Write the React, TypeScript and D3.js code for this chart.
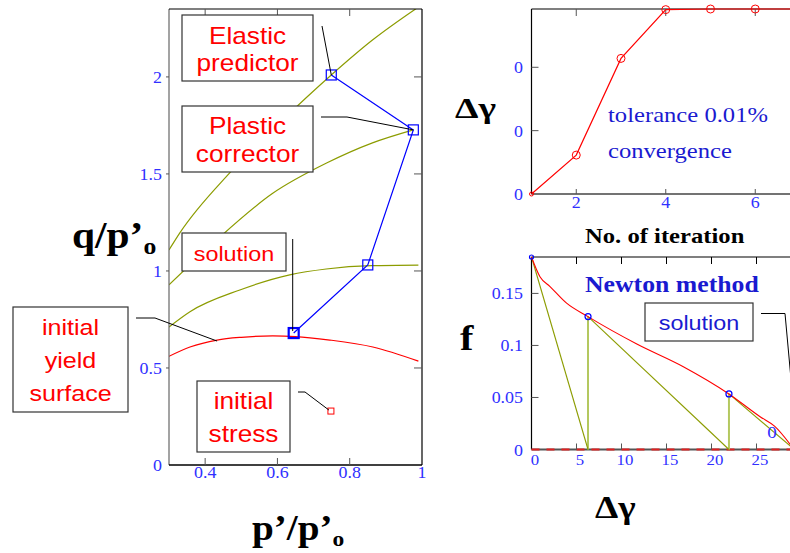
import React from "react";
import * as d3 from "d3";

const W = 790;
const H = 553;
const SERIF = "'Liberation Serif', 'Times New Roman', serif";
const SANS = "'Liberation Sans', Arial, sans-serif";

// ---------- Left chart: q/p'o vs p'/p'o ----------
const pTicks = [0.4, 0.6, 0.8, 1];
const qTicks = [0, 0.5, 1, 1.5, 2];
const initialYieldP = [0.3, 0.358, 0.433, 0.5, 0.587, 0.65, 0.745, 0.864, 0.99];
const initialYieldQ = [0.56, 0.608, 0.644, 0.658, 0.665, 0.662, 0.644, 0.608, 0.535];
const surface1P = [0.3, 0.33, 0.468, 0.606, 0.749, 0.863, 0.99];
const surface1Q = [1.108, 1.196, 1.505, 1.763, 2.01, 2.19, 2.36];
const surface2P = [0.3, 0.432, 0.587, 0.736, 0.863, 0.976];
const surface2Q = [0.928, 1.16, 1.4, 1.556, 1.66, 1.727];
const surface3P = [0.3, 0.358, 0.496, 0.634, 0.735, 0.86, 0.99];
const surface3Q = [0.711, 0.79, 0.902, 0.98, 1.01, 1.027, 1.03];
const returnP = [0.749, 0.976, 0.85, 0.645];
const returnQ = [2.01, 1.727, 1.031, 0.68];
const initialStressP = [0.748];
const initialStressQ = [0.278];

// ---------- Top-right chart: Δγ vs iteration ----------
const iterations = [1, 2, 3, 4, 5, 6, 7];
const dGamma = [0, 0.00307, 0.0107, 0.01455, 0.0146, 0.0146, 0.0146];
const iterTicks = [2, 4, 6];
const dGammaTicks = [0, 0.005, 0.01];

// ---------- Bottom-right chart: f vs Δγ ----------
const fCurveX = [0, 0.94, 2.06, 3.9, 6.28, 11.7, 16.87, 21.94, 25.4, 27.0, 29];
const fCurveY = [0.185, 0.166, 0.1566, 0.1406, 0.1277, 0.1014, 0.0796, 0.0534, 0.0315, 0.0225, 0.002];
const newtonX = [0, 6.28, 21.94, 29.2];
const newtonF = [0.185, 0.1277, 0.0534, 0];
const gammaTicks = [0, 5, 10, 15, 20, 25];
const fTicks = [0, 0.05, 0.1, 0.15];

const OLIVE = "#8c9c00";
const OLIVE_LIGHT = "#b4c860";
const RED = "#ff0000";
const BLUE = "#0000ff";
const TICKBLUE = "#3030ff";
const TEXTBLUE = "#1a1ad0";
const GRAY = "#555";

type TP = {
  x: number; y: number; size: number; children: React.ReactNode;
  anchor?: string; fill?: string; family?: string; weight?: string | number; sx?: number;
};
function T({ x, y, size, children, anchor = "start", fill = "#000", family = SERIF, weight = "normal", sx = 1.12 }: TP) {
  return (
    <text transform={`translate(${x},${y}) scale(${sx},1)`} fontSize={size} textAnchor={anchor as any}
      fill={fill} fontFamily={family} fontWeight={weight as any}>
      {children}
    </text>
  );
}

function Box({ x0, y0, x1, y1, lines, baselines, size, fill }: { x0: number; y0: number; x1: number; y1: number; lines: string[]; baselines: number[]; size: number; fill: string }) {
  const cx = (x0 + x1) / 2;
  return (
    <g>
      <rect x={x0} y={y0} width={x1 - x0} height={y1 - y0} fill="#fff" stroke="#333" strokeWidth={1.2} />
      {lines.map((l, i) => (
        <T key={i} x={cx} y={baselines[i]} size={size} anchor="middle" fill={fill} family={SANS} sx={1.14}>{l}</T>
      ))}
    </g>
  );
}

export default function App() {
  // Left scales
  const lx = d3.scaleLinear().domain([0.3, 1]).range([169, 422]);
  const ly = d3.scaleLinear().domain([0, 2.35]).range([465, 9]);
  const lLine = d3.line<[number, number]>().x(d => lx(d[0])).y(d => ly(d[1])).curve(d3.curveMonotoneX);
  const straight = d3.line<[number, number]>().x(d => lx(d[0])).y(d => ly(d[1]));
  const zip = (a: number[], b: number[]) => a.map((v, i) => [v, b[i]] as [number, number]);

  // Top-right scales
  const tx = d3.scaleLinear().domain([1, 7]).range([531.5, 800]);
  const ty = d3.scaleLinear().domain([0, 0.0146]).range([194, 9]);
  const tLine = d3.line<[number, number]>().x(d => tx(d[0])).y(d => ty(d[1]));

  // Bottom-right scales
  const bx = d3.scaleLinear().domain([0, 30]).range([531.5, 801.5]);
  const by = d3.scaleLinear().domain([0, 0.185]).range([449.5, 257]);
  const bCurve = d3.line<[number, number]>().x(d => bx(d[0])).y(d => by(d[1])).curve(d3.curveMonotoneX);

  const newtonSlants: [number, number][][] = [];
  const newtonVerts: [number, number][][] = [];
  for (let i = 0; i < newtonX.length - 1; i++) {
    newtonSlants.push([[newtonX[i], newtonF[i]], [newtonX[i + 1], 0]]);
    if (i + 1 < newtonX.length - 1) newtonVerts.push([[newtonX[i + 1], 0], [newtonX[i + 1], newtonF[i + 1]]]);
  }
  const bLine = d3.line<[number, number]>().x(d => bx(d[0])).y(d => by(d[1]));

  const lL = lx(0.3), lR = lx(1), lT = ly(2.35), lB = ly(0);
  const tL = tx(1), tT = ty(0.0146), tB = ty(0);
  const bL = bx(0), bT = by(0.185), bB = by(0);

  return (
    <svg width={W} height={H} viewBox={`0 0 ${W} ${H}`} style={{ position: "absolute", left: 0, top: 0, background: "#fff" }}>
      <defs>
        <clipPath id="leftClip"><rect x={lL} y={lT} width={lR - lL} height={lB - lT} /></clipPath>
      </defs>
      <rect x={0} y={0} width={W} height={H} fill="#fff" />

      {/* ===== LEFT CHART ===== */}
      <g clipPath="url(#leftClip)" fill="none">
        <path d={lLine(zip(surface1P, surface1Q)) || ""} stroke={OLIVE} strokeWidth={1.2} />
        <path d={lLine(zip(surface2P, surface2Q)) || ""} stroke={OLIVE} strokeWidth={1.2} />
        <path d={lLine(zip(surface3P, surface3Q)) || ""} stroke={OLIVE} strokeWidth={1.2} />
        <path d={lLine(zip(initialYieldP, initialYieldQ)) || ""} stroke={RED} strokeWidth={1.2} />
        <path d={straight(zip(returnP, returnQ)) || ""} stroke={BLUE} strokeWidth={1.2} />
      </g>
      {returnP.map((p, i) => {
        const s = 10;
        return <rect key={i} x={lx(p) - s / 2} y={ly(returnQ[i]) - s / 2} width={s} height={s} fill="none"
          stroke={BLUE} strokeWidth={i === returnP.length - 1 ? 2.2 : 1.2} />;
      })}
      {initialStressP.map((p, i) => (
        <rect key={i} x={lx(p) - 3} y={ly(initialStressQ[i]) - 3} width={6} height={6} fill="none" stroke={RED} strokeWidth={1} />
      ))}
      {/* frame */}
      <line x1={lL} x2={lL} y1={lT} y2={lB} stroke="#666" strokeWidth={1.2} />
      <line x1={lL} x2={lR} y1={lT} y2={lT} stroke="#000" strokeWidth={1.2} />
      <line x1={lR} x2={lR} y1={lT} y2={lB} stroke="#000" strokeWidth={1.2} />
      <line x1={lL} x2={lR} y1={lB} y2={lB} stroke="#000" strokeWidth={1.5} />
      {pTicks.filter(v => v < 1).map(v => (
        <g key={v}>
          <line x1={lx(v)} x2={lx(v)} y1={lT} y2={lT + 7} stroke={GRAY} />
          <line x1={lx(v)} x2={lx(v)} y1={lB} y2={lB - 7} stroke={GRAY} />
        </g>
      ))}
      {qTicks.filter(v => v > 0).map(v => (
        <g key={v}>
          <line x1={lR} x2={lR - 8} y1={ly(v)} y2={ly(v)} stroke={GRAY} />
          <line x1={lL} x2={lL - 3} y1={ly(v)} y2={ly(v)} stroke={GRAY} />
        </g>
      ))}
      {pTicks.map(v => (
        <T key={v} x={lx(v)} y={lB + 13} size={16} anchor="middle" fill={TICKBLUE}>{d3.format("~g")(v)}</T>
      ))}
      {qTicks.map(v => (
        <T key={v} x={162} y={ly(v) + 6} size={16} anchor="end" fill={TICKBLUE}>{d3.format("~g")(v)}</T>
      ))}

      {/* leaders */}
      <g stroke="#000" strokeWidth={1} fill="none">
        <polyline points={`322,26 ${lx(returnP[0])},${ly(returnQ[0])}`} />
        <polyline points={`321,117 347,117 ${lx(returnP[1])},${ly(returnQ[1])}`} />
        <polyline points={`${lx(returnP[3]) - 1},239 ${lx(returnP[3]) - 1},${ly(returnQ[3]) - 2}`} />
        <polyline points={`298,392 305,392 ${lx(initialStressP[0]) - 2},${ly(initialStressQ[0]) - 1}`} />
        <polyline points={`136,318 155,318 ${lx(0.433)},${ly(0.644) + 1}`} />
      </g>
      {/* annotation boxes */}
      <Box x0={182} y0={15} x1={313} y1={81} lines={["Elastic", "predictor"]} baselines={[43.5, 71]} size={23} fill={RED} />
      <Box x0={182} y0={106} x1={313} y1={172} lines={["Plastic", "corrector"]} baselines={[134, 162]} size={23} fill={RED} />
      <Box x0={182} y0={233} x1={286} y1={271} lines={["solution"]} baselines={[260.5]} size={20.5} fill={RED} />
      <Box x0={197} y0={381} x1={290} y1={452} lines={["initial", "stress"]} baselines={[409, 442]} size={23} fill={RED} />
      <Box x0={13} y0={307} x1={128} y1={412} lines={["initial", "yield", "surface"]} baselines={[335, 368, 401]} size={22} fill={RED} />

      {/* left axis titles */}
      <text transform="translate(72,248) scale(1.12,1)" fontFamily={SERIF} fontWeight="bold" fontSize={37} fill="#000">
        q/p’<tspan fontSize={23} dy={6}>o</tspan>
      </text>
      <text transform="translate(252,540) scale(1.12,1)" fontFamily={SERIF} fontWeight="bold" fontSize={35} fill="#000">
        p’/p’<tspan fontSize={21} dy={6}>o</tspan>
      </text>

      {/* ===== TOP-RIGHT CHART ===== */}
      <line x1={tL} x2={tL} y1={tT} y2={tB} stroke="#000" strokeWidth={1.2} />
      <line x1={tL} x2={W} y1={tT} y2={tT} stroke="#000" strokeWidth={1.2} />
      <line x1={tL} x2={W} y1={tB} y2={tB} stroke="#444" strokeWidth={1.5} />
      {iterTicks.map(v => (
        <g key={v}>
          <line x1={tx(v)} x2={tx(v)} y1={tT} y2={tT + 7} stroke={GRAY} />
          <line x1={tx(v)} x2={tx(v)} y1={tB} y2={tB - 5} stroke={GRAY} />
          <T x={tx(v)} y={tB + 14} size={16} anchor="middle" fill={TICKBLUE}>{String(v)}</T>
        </g>
      ))}
      {dGammaTicks.map(v => (
        <g key={v}>
          {v > 0 && <line x1={tL} x2={tL + 7} y1={ty(v)} y2={ty(v)} stroke={GRAY} />}
          <T x={523} y={ty(v) + 6} size={16} anchor="end" fill={TICKBLUE}>{d3.format(".0f")(v)}</T>
        </g>
      ))}
      <path d={tLine(zip(iterations, dGamma)) || ""} stroke={RED} strokeWidth={1.2} fill="none" />
      {iterations.map((it, i) => (
        <circle key={it} cx={tx(it)} cy={ty(dGamma[i])} r={i === 0 ? 2 : 4} fill="none" stroke={RED} strokeWidth={1} />
      ))}
      <T x={608} y={122} size={22} fill={TEXTBLUE}>tolerance 0.01%</T>
      <T x={608} y={158} size={22} fill={TEXTBLUE}>convergence</T>
      <T x={585} y={243} size={22} weight="bold">No. of iteration</T>
      <T x={455} y={118} size={30} sx={1.25} weight="bold">Δγ</T>

      {/* ===== BOTTOM-RIGHT CHART ===== */}
      <line x1={bL} x2={bL} y1={bT} y2={bB} stroke="#000" strokeWidth={1.2} />
      <line x1={bL} x2={W} y1={bT} y2={bT} stroke="#000" strokeWidth={1.2} />
      <line x1={bL} x2={W} y1={bB} y2={bB} stroke="#555" strokeWidth={2} />
      <line x1={bL} x2={W} y1={bB} y2={bB} stroke="#e02020" strokeWidth={2} strokeDasharray="8,7" />
      {gammaTicks.map(v => (
        <g key={v}>
          {v > 0 && <line x1={bx(v)} x2={bx(v)} y1={bT} y2={bT + 7} stroke="#000" />}
          {v > 0 && <line x1={bx(v)} x2={bx(v)} y1={bB} y2={bB - 6} stroke={GRAY} />}
          <T x={bx(v) + 3.5} y={bB + 15} size={15} anchor="middle" fill={TICKBLUE}>{String(v)}</T>
        </g>
      ))}
      {fTicks.map(v => (
        <g key={v}>
          {v > 0 && <line x1={bL} x2={bL + 7} y1={by(v)} y2={by(v)} stroke={GRAY} />}
          <T x={523} y={by(v) + 6} size={16} anchor="end" fill={TICKBLUE}>{d3.format("~g")(v)}</T>
        </g>
      ))}
      <g fill="none">
        {newtonVerts.map((seg, i) => (
          <path key={"v" + i} d={bLine(seg) || ""} stroke={OLIVE_LIGHT} strokeWidth={2} />
        ))}
        {newtonSlants.map((seg, i) => (
          <path key={"s" + i} d={bLine(seg) || ""} stroke={OLIVE} strokeWidth={1.1} />
        ))}
        <path d={bCurve(zip(fCurveX, fCurveY)) || ""} stroke={RED} strokeWidth={1.1} />
      </g>
      {newtonX.slice(0, 3).map((x, i) => (
        <circle key={i} cx={bx(x)} cy={by(newtonF[i])} r={i === 0 ? 2 : 3} fill="none" stroke={BLUE} strokeWidth={1.2} />
      ))}
      <T x={772} y={438} size={17} anchor="middle" fill={TICKBLUE}>0</T>
      <T x={585} y={292} size={23} weight="bold" fill={TEXTBLUE}>Newton method</T>
      <polyline points="761,313.5 785,313.5 792,390" stroke="#000" strokeWidth={1} fill="none" />
      <Box x0={645} y0={303} x1={753} y1={341} lines={["solution"]} baselines={[330]} size={20.5} fill={TEXTBLUE} />
      <T x={460} y={350} size={36} weight="bold">f</T>
      <T x={595} y={518} size={31} sx={1.2} weight="bold">Δγ</T>
    </svg>
  );
}
